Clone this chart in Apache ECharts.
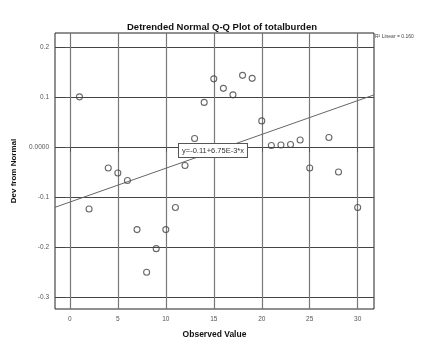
<!DOCTYPE html>
<html><head><meta charset="utf-8">
<script src="https://cdn.jsdelivr.net/npm/echarts@6/dist/echarts.min.js"></script>
<style>html,body{margin:0;padding:0;background:#fff}#c{width:433px;height:344px}</style>
</head><body><div id="c"></div>
<script>
var observed = [1,2,4,5,6,7,8,9,10,11,12,13,14,15,16,17,18,19,20,21,22,23,24,25,27,28,30];
var devFromNormal = [0.100,-0.124,-0.042,-0.052,-0.067,-0.165,-0.250,-0.203,-0.165,-0.121,-0.037,0.017,0.089,0.136,0.117,0.104,0.143,0.137,0.052,0.003,0.004,0.005,0.014,-0.042,0.019,-0.050,-0.121];
var xTicks = [0,5,10,15,20,25,30];
var yTicks = [-0.3,-0.2,-0.1,0,0.1,0.2];
var fitIntercept = -0.11, fitSlope = 6.75e-3;
var xRange = [-1.55, 31.7], yRange = [-0.3235, 0.2275];
var fitLabel = 'y=-0.11+6.75E-3*x';
var r2Label = 'R\u00b2 Linear = 0.160';

var pts = observed.map(function(x,i){return [x, devFromNormal[i]];});
var fitPts = xRange.map(function(x){return [x, fitIntercept + fitSlope*x];});
var chart = echarts.init(document.getElementById('c'), null, {renderer:'canvas'});
chart.setOption({
  animation:false,
  backgroundColor:'#fff',
  title:{text:'Detrended Normal Q-Q Plot of totalburden', left:217, textAlign:'center', top:17,
    textStyle:{fontFamily:'Liberation Sans, Arial', fontSize:9.5, fontWeight:'bold', color:'#111'}},
  grid:{left:55, right:59, top:33, bottom:30, show:true, borderColor:'#222', borderWidth:1},
  xAxis:{type:'value', min:xRange[0], max:xRange[1],
    name:'Observed Value', nameLocation:'middle', nameGap:21,
    nameTextStyle:{fontFamily:'Liberation Sans, Arial', fontSize:8.5, fontWeight:'bold', color:'#111'},
    axisLine:{show:false},
    axisTick:{show:true, customValues:xTicks, length:5, lineStyle:{color:'#555'}},
    axisLabel:{customValues:xTicks, fontSize:6.5, color:'#555', margin:7, fontFamily:'Liberation Sans, Arial'},
    splitLine:{show:true, lineStyle:{color:'#777', width:1.2}}},
  yAxis:{type:'value', min:yRange[0], max:yRange[1],
    name:'Dev from Normal', nameLocation:'middle', nameGap:36,
    nameTextStyle:{fontFamily:'Liberation Sans, Arial', fontSize:8, fontWeight:'bold', color:'#111'},
    axisLine:{show:false},
    axisTick:{show:true, customValues:yTicks, length:5, lineStyle:{color:'#555'}},
    axisLabel:{customValues:yTicks, fontSize:6.5, color:'#555', margin:6, fontFamily:'Liberation Sans, Arial',
      formatter:function(v){return Math.abs(v)<1e-9?'0.0000':v.toFixed(1);}},
    splitLine:{show:true, lineStyle:{color:'#444', width:1.2}}},
  series:[
    {type:'line', data:fitPts, symbol:'none', lineStyle:{color:'#666', width:1}, silent:true, z:3},
    {type:'scatter', data:pts, symbol:'circle', symbolSize:6,
      itemStyle:{color:'rgba(255,255,255,0)', borderColor:'#444', borderWidth:1.1}, z:5}
  ],
  graphic:[
    {type:'text', left:178, top:143, z:10, style:{text:fitLabel, fontSize:7.5, fontFamily:'Liberation Sans, Arial', fill:'#333',
      backgroundColor:'#fff', borderColor:'#555', borderWidth:1, padding:[3,3,2,3]}},
    {type:'text', left:375, top:34, z:10, style:{text:r2Label, fontSize:5, fontFamily:'Liberation Sans, Arial', fill:'#444'}}
  ]
});
</script></body></html>
